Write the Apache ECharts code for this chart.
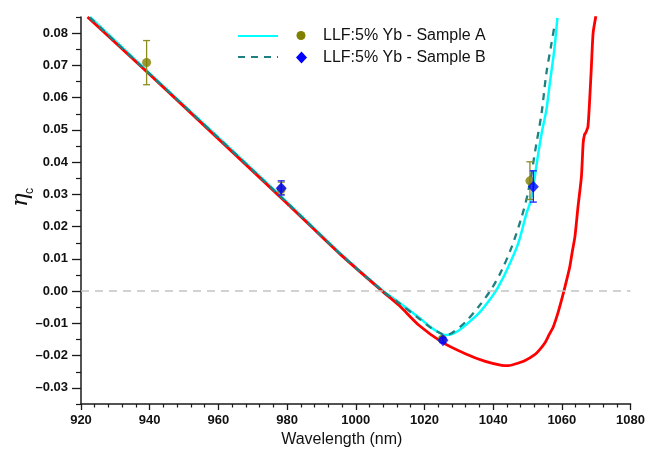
<!DOCTYPE html>
<html>
<head>
<meta charset="utf-8">
<script src="https://cdn.jsdelivr.net/npm/echarts@6/dist/echarts.min.js"></script>
<style>html,body{margin:0;padding:0;background:#fff;}#c{width:648px;height:453px;}</style>
</head>
<body>
<div id="c"></div>
<script>
// ---- data ----
const xTicks = [920, 940, 960, 980, 1000, 1020, 1040, 1060, 1080];
const yTicks = [-0.03, -0.02, -0.01, 0.00, 0.01, 0.02, 0.03, 0.04, 0.05, 0.06, 0.07, 0.08];
const yMinorTicks = [-0.035, -0.025, -0.015, -0.005, 0.005, 0.015, 0.025, 0.035, 0.045, 0.055, 0.065, 0.075, 0.085];

// red curve (wavelength nm, eta_c)
const redWl  = [921.9, 940, 960, 980, 995.2, 1007.7, 1012.6, 1018.4, 1025.1, 1031.9, 1037.7, 1042.5, 1044.5, 1046.4, 1049.3, 1052.2, 1053.5, 1055.1, 1056.3, 1057.5, 1058.8, 1059.9, 1060.9, 1062.3, 1063.0, 1063.8, 1064.7, 1065.7, 1066.2, 1066.6, 1067.0, 1067.6, 1068.1, 1068.6, 1069.1, 1069.9];
const redEta = [0.085, 0.0672, 0.0472, 0.0272, 0.0117, 0.0, -0.0044, -0.0106, -0.0158, -0.0194, -0.0218, -0.0230, -0.0231, -0.0226, -0.0215, -0.0196, -0.0182, -0.0160, -0.0135, -0.0111, -0.0070, -0.0028, 0.0013, 0.0075, 0.0120, 0.0168, 0.0261, 0.0355, 0.0458, 0.0485, 0.0492, 0.0510, 0.0593, 0.0696, 0.0800, 0.0852];

// Sample A curve (solid cyan)
const aWl  = [922.6, 940, 960, 980, 995.2, 1007.7, 1012.6, 1018.4, 1022.2, 1025.1, 1026.5, 1028.0, 1030.0, 1031.9, 1035.7, 1039.6, 1041.5, 1044.4, 1047.3, 1049.7, 1050.7, 1051.7, 1052.6, 1054.1, 1055.5, 1056.5, 1057.8, 1058.7];
const aEta = [0.085, 0.0675, 0.0477, 0.0276, 0.0120, 0.0003, -0.0035, -0.0082, -0.0115, -0.0133, -0.0136, -0.0133, -0.0122, -0.0106, -0.0070, -0.0018, 0.0013, 0.0075, 0.0148, 0.0241, 0.0272, 0.0324, 0.0390, 0.0489, 0.0562, 0.0645, 0.0748, 0.0847];

// Sample B curve (dashed teal)
const bWl  = [922.6, 940, 960, 980, 995.2, 1007.7, 1012.6, 1018.4, 1022.2, 1025.1, 1026.5, 1028.0, 1031.9, 1035.7, 1039.6, 1042.5, 1045.4, 1048.3, 1050.2, 1052.6, 1054.1, 1055.5, 1057.0, 1057.9];
const bEta = [0.0848, 0.0673, 0.0475, 0.0274, 0.0118, 0.0001, -0.0037, -0.0085, -0.0116, -0.0133, -0.0135, -0.0130, -0.0096, -0.0049, 0.0008, 0.0065, 0.0137, 0.0230, 0.0308, 0.0458, 0.0552, 0.0676, 0.0769, 0.0826];

// measured points with error bars
const ptsAWl  = [939.1, 978.3, 1025.2, 1050.7];
const ptsAEta = [0.0709, 0.0316, -0.0149, 0.0342];
const ptsALo  = [0.0640, 0.0300, -0.0157, 0.0284];
const ptsAHi  = [0.0777, 0.0338, -0.0141, 0.0401];

const ptsBWl  = [978.3, 1025.4, 1051.7];
const ptsBEta = [0.0319, -0.0152, 0.0324];
const ptsBLo  = [0.0298, -0.0160, 0.0276];
const ptsBHi  = [0.0342, -0.0145, 0.0373];

const legendNames = ['LLF:5% Yb - Sample A', 'LLF:5% Yb - Sample B'];

// ---- build ----
const zip = (a, b) => a.map((v, i) => [v, b[i]]);
const errData = (wl, eta, lo, hi) => wl.map((v, i) => [v, eta[i], lo[i], hi[i]]);

function errRender(color) {
  return function (params, api) {
    const x = api.value(0);
    const pHi = api.coord([x, api.value(3)]);
    const pLo = api.coord([x, api.value(2)]);
    const w = 3.5;
    const st = { stroke: color, lineWidth: 1.3 };
    return {
      type: 'group',
      children: [
        { type: 'line', shape: { x1: pHi[0], y1: pHi[1], x2: pLo[0], y2: pLo[1] }, style: st },
        { type: 'line', shape: { x1: pHi[0] - w, y1: pHi[1], x2: pHi[0] + w, y2: pHi[1] }, style: st },
        { type: 'line', shape: { x1: pLo[0] - w, y1: pLo[1], x2: pLo[0] + w, y2: pLo[1] }, style: st }
      ]
    };
  };
}

const axisColor = '#1a1a1a';
const labelFont = { color: '#111', fontSize: 13, fontWeight: 'bold', fontFamily: 'Liberation Sans, Arial, sans-serif' };

const chart = echarts.init(document.getElementById('c'), null, { renderer: 'canvas' });
chart.setOption({
  animation: false,
  backgroundColor: '#fff',
  grid: { left: 81, right: 15, top: 17, bottom: 49 },
  xAxis: {
    type: 'value', min: xTicks[0], max: xTicks[xTicks.length - 1], interval: 20,
    axisLine: { show: true, onZero: false, lineStyle: { color: axisColor, width: 1.5 } },
    axisTick: { show: true, length: 6, lineStyle: { color: axisColor, width: 1.3 } },
    minorTick: { show: true, splitNumber: 5, length: 3.5, lineStyle: { color: axisColor, width: 1.2 } },
    splitLine: { show: false },
    axisLabel: Object.assign({ margin: 10, formatter: v => String(v) }, labelFont),
    name: 'Wavelength (nm)', nameLocation: 'middle', nameGap: 28,
    nameTextStyle: { fontSize: 16, color: '#111', fontFamily: 'Liberation Sans, Arial, sans-serif', padding: [0, 28, 0, 0] }
  },
  yAxis: [
    {
      type: 'value', min: -0.035, max: 0.085,
      axisLine: { show: true, onZero: false, lineStyle: { color: axisColor, width: 1.5 } },
      axisTick: { show: true, length: 9, customValues: yTicks, lineStyle: { color: axisColor, width: 1.3 } },
      splitLine: { show: false },
      axisLabel: Object.assign({ margin: 13, customValues: yTicks,
        formatter: v => (v < -1e-9 ? '–' : '') + Math.abs(v).toFixed(2) }, labelFont)
    },
    {
      type: 'value', min: -0.035, max: 0.085, position: 'left',
      axisLine: { show: false },
      axisTick: { show: true, length: 5, customValues: yMinorTicks, lineStyle: { color: axisColor, width: 1.2 } },
      axisLabel: { show: false },
      splitLine: { show: false }
    }
  ],
  series: [
    {
      name: 'Sample A curve', type: 'line', data: zip(aWl, aEta), showSymbol: false, smooth: 0.3,
      lineStyle: { color: '#00ffff', width: 2.5 }, z: 2
    },
    {
      name: 'Sample B curve', type: 'line', data: zip(bWl, bEta), showSymbol: false, smooth: 0.3,
      lineStyle: { color: '#1f8080', width: 2.3, type: [7, 6] }, z: 3
    },
    {
      name: 'red curve', type: 'line', data: zip(redWl, redEta), showSymbol: false, smooth: 0.2,
      lineStyle: { color: '#ff0000', width: 2.8 }, z: 2,
      markLine: {
        silent: true, symbol: ['none', 'none'], label: { show: false },
        lineStyle: { color: '#c4c4c4', width: 1.5, type: [8, 6] },
        data: [{ yAxis: 0 }]
      }
    },
    {
      name: 'A err', type: 'custom', renderItem: errRender('#8c8c1e'),
      data: errData(ptsAWl, ptsAEta, ptsALo, ptsAHi), encode: { x: 0, y: [2, 3] }, z: 4
    },
    {
      name: legendNames[0], type: 'scatter', data: zip(ptsAWl, ptsAEta), symbol: 'circle', symbolSize: 9,
      itemStyle: { color: '#808000' }, z: 5
    },
    {
      name: 'B err', type: 'custom', renderItem: errRender('#2020ff'),
      data: errData(ptsBWl, ptsBEta, ptsBLo, ptsBHi), encode: { x: 0, y: [2, 3] }, z: 6
    },
    {
      name: legendNames[1], type: 'scatter', data: zip(ptsBWl, ptsBEta), symbol: 'diamond', symbolSize: [11, 12],
      itemStyle: { color: '#0000ff' }, z: 7
    }
  ],
  graphic: [
    // y-axis title (rotated)
    { type: 'text', x: 21, y: 200, rotation: Math.PI / 2,
      style: { text: 'η', font: 'italic 23px "DejaVu Serif", "Liberation Serif", serif', fill: '#111', align: 'center', verticalAlign: 'middle' } },
    { type: 'text', x: 30, y: 191, rotation: Math.PI / 2,
      style: { text: 'c', font: '12px "Liberation Sans", Arial, sans-serif', fill: '#111', align: 'center', verticalAlign: 'middle' } },
    // legend row A
    { type: 'line', shape: { x1: 238, y1: 36, x2: 278, y2: 36 }, style: { stroke: '#00ffff', lineWidth: 2 } },
    { type: 'circle', shape: { cx: 301, cy: 35.5, r: 4.5 }, style: { fill: '#808000' } },
    { type: 'text', x: 323, y: 36, style: { text: legendNames[0], font: '16px "Liberation Sans", Arial, sans-serif', fill: '#111', verticalAlign: 'middle' } },
    // legend row B
    { type: 'line', shape: { x1: 238, y1: 57, x2: 278, y2: 57 }, style: { stroke: '#1f8080', lineWidth: 2.2, lineDash: [7, 6] } },
    { type: 'polygon', shape: { points: [[301.5, 51.5], [307, 57.5], [301.5, 63.5], [296, 57.5]] }, style: { fill: '#0000ff' } },
    { type: 'text', x: 323, y: 57.5, style: { text: legendNames[1], font: '16px "Liberation Sans", Arial, sans-serif', fill: '#111', verticalAlign: 'middle' } }
  ]
});
</script>
</body>
</html>
